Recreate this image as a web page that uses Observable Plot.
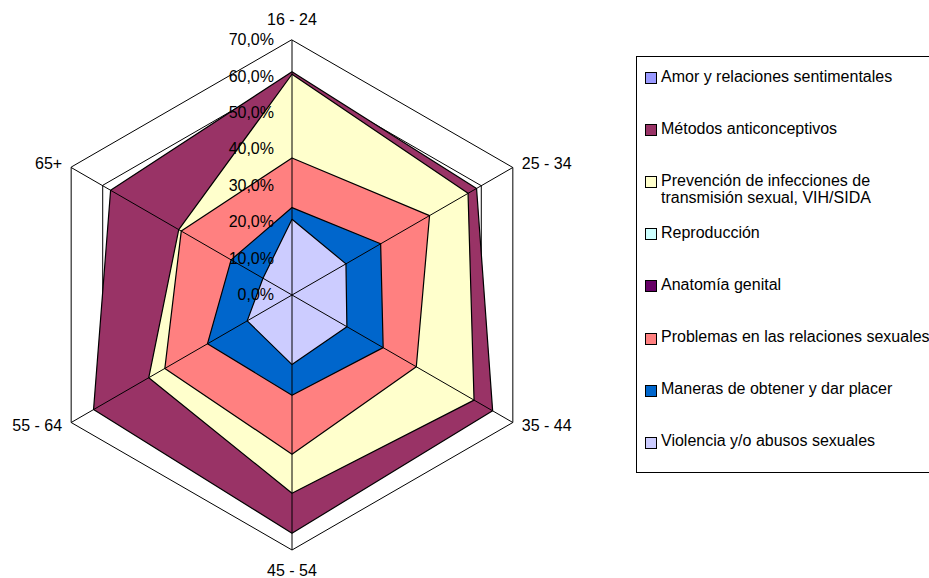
<!DOCTYPE html>
<html>
<head>
<meta charset="utf-8">
<script src="https://cdn.jsdelivr.net/npm/d3@7"></script>
<script src="https://cdn.jsdelivr.net/npm/@observablehq/plot@0.6"></script>
<style>
  body { margin: 0; background: #fff; }
  #wrap { position: relative; width: 929px; height: 578px; overflow: hidden; background: #fff;
          font-family: "Liberation Sans", Arial, sans-serif; color: #000; }
  #wrap svg { position: absolute; left: 0; top: 0; }
  #legendBox { position: absolute; left: 636px; top: 56px; width: 330px; height: 417px;
               border: 1px solid #000; box-sizing: border-box; }
  .lgItem { position: absolute; left: 661px; font-size: 16px; line-height: 17px; white-space: nowrap; }
  .lgSw { position: absolute; left: 645px; width: 12px; height: 12px; border: 1px solid #000; box-sizing: border-box; }
</style>
</head>
<body>
<div id="wrap"><div id="legendBox"></div></div>
<script>
// ---- data ----
const categories = ["16 - 24", "25 - 34", "35 - 44", "45 - 54", "55 - 64", "65+"];
const seriesNames = [
  "Amor y relaciones sentimentales",
  "Métodos anticonceptivos",
  "Prevención de infecciones de\ntransmisión sexual, VIH/SIDA",
  "Reproducción",
  "Anatomía genital",
  "Problemas en las relaciones sexuales",
  "Maneras de obtener y dar placer",
  "Violencia y/o abusos sexuales"
];
const amor         = [54.0, 50.0, 56.0, 58.0, 55.0, 50.0];
const metodos      = [61.3, 58.5, 63.6, 65.4, 62.9, 57.5];
const prevencion   = [60.6, 55.8, 57.7, 54.4, 45.4, 35.9];
const reproduccion = [30.0, 38.0, 34.0, 36.0, 30.0, 25.0];
const anatomia     = [28.0, 30.0, 30.0, 31.0, 26.0, 20.0];
const problemas    = [37.6, 43.6, 39.4, 43.7, 40.3, 35.1];
const maneras      = [24.0, 28.1, 28.9, 27.5, 26.8, 19.3];
const violencia    = [20.8, 17.1, 17.4, 19.1, 14.2,  9.2];
const tickValues   = [0, 10, 20, 30, 40, 50, 60, 70];

const seriesValues = [amor, metodos, prevencion, reproduccion, anatomia, problemas, maneras, violencia];
const colors = ["#9999FF", "#993366", "#FFFFCC", "#CCFFFF", "#660066", "#FF8080", "#0066CC", "#CCCCFF"];

// ---- geometry helpers (polar -> cartesian in value units) ----
const n = categories.length;
const ang = i => i * 2 * Math.PI / n;
const px = (v, i) => v * Math.sin(ang(i));
const py = (v, i) => v * Math.cos(ang(i));
const maxV = tickValues[tickValues.length - 1];

const W = 929, H = 578, cx = 291.5, cy = 294.5, R = 255;
const k = R / maxV;

const gridPts = [];
tickValues.filter(t => t > 0).forEach(t => categories.forEach((c, i) => gridPts.push({level: t, x: px(t, i), y: py(t, i)})));

const seriesMarks = seriesValues.map((vals, s) =>
  Plot.line(vals.map((v, i) => ({x: px(v, i), y: py(v, i)})), {
    x: "x", y: "y", curve: "linear-closed",
    fill: colors[s], stroke: "#000", strokeWidth: 1.2, strokeLinejoin: "miter"
  })
);

const fmt = t => t.toFixed(1).replace(".", ",") + "%";

const catMarks = categories.map((c, i) => {
  const s = Math.sin(ang(i)), co = Math.cos(ang(i));
  let anchor = "middle", dx = 0, dy = 0;
  if (Math.abs(s) < 1e-6) { dy = co > 0 ? -20 : 21; }
  else { anchor = s > 0 ? "start" : "end"; dx = s > 0 ? 9 : -9; dy = co > 0 ? -4 : 3; }
  return Plot.text([c], {x: () => px(maxV, i), y: () => py(maxV, i), text: d => d,
    textAnchor: anchor, dx, dy, fontSize: 16, fill: "#000"});
});

const chart = Plot.plot({
  width: W, height: H, margin: 0,
  x: {domain: [-cx / k, (W - cx) / k], axis: null},
  y: {domain: [-(H - cy) / k, cy / k], axis: null},
  style: {fontFamily: "'Liberation Sans', Arial, sans-serif", fontSize: "16px", background: "transparent", color: "#000"},
  marks: [
    Plot.line(gridPts.filter(d => d.level < maxV), {x: "x", y: "y", z: "level", curve: "linear-closed", stroke: "#000", strokeWidth: 1}),
    ...seriesMarks,
    Plot.link(categories, {x1: () => 0, y1: () => 0, x2: (d, i) => px(maxV, i), y2: (d, i) => py(maxV, i), stroke: "#000", strokeWidth: 1}),
    Plot.line(gridPts.filter(d => d.level === maxV), {x: "x", y: "y", curve: "linear-closed", stroke: "#000", strokeWidth: 1}),
    Plot.text(tickValues, {x: () => 0, y: d => d, text: fmt, textAnchor: "end", dx: -18, fontSize: 16, fill: "#000"}),
    ...catMarks
  ]
});
const wrap = document.getElementById("wrap");
wrap.insertBefore(chart, wrap.firstChild);

// ---- legend ----
seriesNames.forEach((name, i) => {
  const c = 76 + 52.1 * i;
  const it = document.createElement("div");
  it.className = "lgItem";
  it.style.top = (c - 8.5) + "px";
  it.innerHTML = name.split("\n").map(t => t.replace(/&/g, "&amp;")).join("<br>");
  wrap.appendChild(it);
  const sw = document.createElement("div");
  sw.className = "lgSw";
  sw.style.top = (c - 4) + "px";
  sw.style.background = colors[i];
  wrap.appendChild(sw);
});
</script>
</body>
</html>
